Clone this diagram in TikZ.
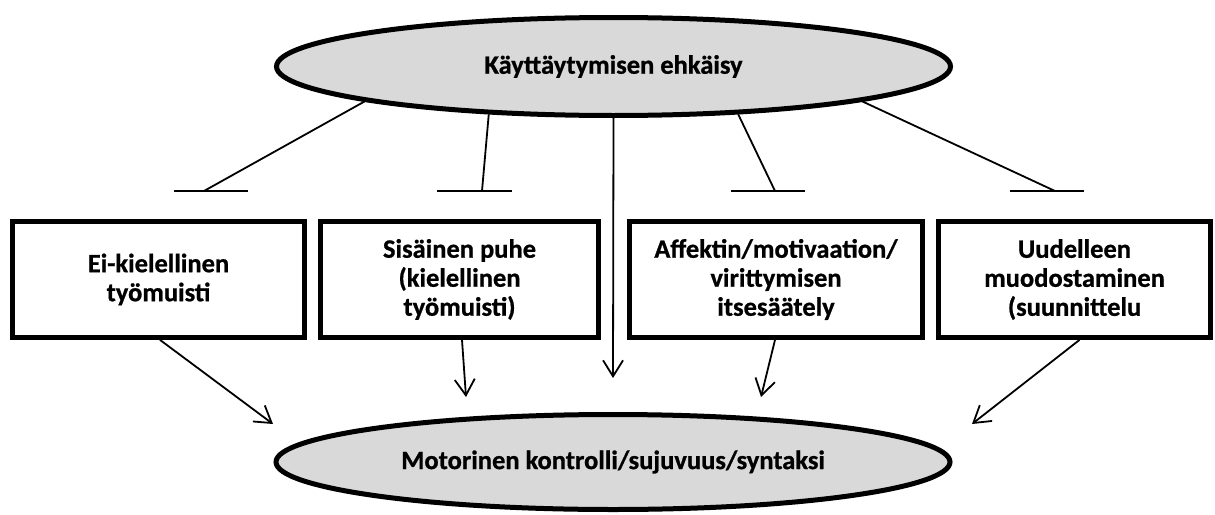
\documentclass[tikz,border=0pt]{standalone}
\usepackage{fontspec}
\setmainfont{Carlito}[BoldFeatures={FakeBold=0.8}]
\usetikzlibrary{shapes.geometric,arrows.meta,calc}
\definecolor{ellgray}{RGB}{217,217,217}
\begin{document}
\begin{tikzpicture}[x=1pt,y=-1pt,
  txt/.style={font=\fontsize{26.5}{29}\selectfont\bfseries, align=center},
  ell/.style={ellipse, draw, line width=5pt, fill=ellgray, inner sep=0pt,
    minimum width=674pt, txt},
  fbox/.style={rectangle, draw, line width=4.8pt, minimum height=116pt, inner sep=0pt, txt},
  thinln/.style={line width=1.8pt},
  arr/.style={line width=1.8pt, -{Straight Barb[length=16pt,width=20pt,line width=1.8pt]}}
]
\useasboundingbox (0,0) rectangle (1215,514);

\node[ell, minimum height=98pt] (top) at (613.5,66.5) {Käyttäytymisen ehkäisy};
\node[ell, minimum height=95pt] (bot) at (613,462) {Motorinen kontrolli/sujuvuus/syntaksi};

\node[fbox, minimum width=292pt] (b1) at (158.5,279.5) {Ei-kielellinen\\työmuisti};
\node[fbox, minimum width=278pt] (b2) at (459.5,279.5) {Sisäinen puhe\\(kielellinen\\työmuisti)};
\node[fbox, minimum width=293pt] (b3) at (776,279.5) {Affektin/motivaation/\\virittymisen\\itsesäätely};
\node[fbox, minimum width=272pt] (b4) at (1074.5,279.5) {Uudelleen\\muodostaminen\\(suunnittelu};

% inhibition bars
\coordinate (j1) at (204,191);
\coordinate (j2) at (482,191);
\coordinate (j3) at (775,191);
\coordinate (j4) at (1055,191);
\draw[thinln] ([xshift=-30pt]j1) -- ([xshift=44pt]j1);
\draw[thinln] ([xshift=-45pt]j2) -- ([xshift=30pt]j2);
\draw[thinln] ([xshift=-44pt]j3) -- ([xshift=30pt]j3);
\draw[thinln] ([xshift=-45pt]j4) -- ([xshift=29pt]j4);
\draw[thinln] (top.188) -- (j1);
\draw[thinln] (top.201.5) -- (j2);
\draw[thinln] (top.339) -- (j3);
\draw[thinln] (top.352) -- (j4);

% arrows to motor control
\coordinate (t1) at (273,424);
\coordinate (t2) at (466,397);
\coordinate (tc) at (613,378);
\coordinate (t3) at (761,397);
\coordinate (t4) at (972,424);
\draw[arr] ([xshift=1.5pt]b1.south) -- (t1);
\draw[arr] ([xshift=2.5pt]b2.south) -- (t2);
\draw[arr] (top.south) -- (tc);
\draw[arr] ([xshift=-1pt]b3.south) -- (t3);
\draw[arr] ([xshift=5pt]b4.south) -- (t4);
\end{tikzpicture}
\end{document}
